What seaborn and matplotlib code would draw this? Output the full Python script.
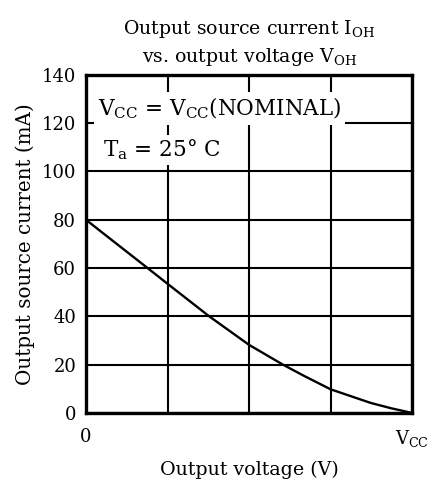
import matplotlib
matplotlib.use("Agg")
import matplotlib.pyplot as plt
import seaborn as sns
import pandas as pd

# Data (x as fraction of VCC)
voltage_frac = [0.0, 0.1, 0.189, 0.25, 0.378, 0.5, 0.604, 0.668, 0.75, 0.872, 0.934, 1.0]
current_ma = [80, 69.4, 60, 53.5, 40, 28.2, 20, 15.4, 9.8, 4.2, 2.0, 0]
y_ticks = [0, 20, 40, 60, 80, 100, 120, 140]
x_grid = [0, 0.25, 0.5, 0.75, 1.0]
x_tick_labels = ["0", "", "", "", r"V$_{\mathrm{CC}}$"]

sns.set_style("white")
plt.rcParams["font.family"] = ["DejaVu Serif"]
plt.rcParams["mathtext.fontset"] = "custom"
plt.rcParams["mathtext.rm"] = "DejaVu Serif"
plt.rcParams["mathtext.it"] = "DejaVu Serif:italic"
plt.rcParams["text.color"] = "black"
plt.rcParams["axes.labelcolor"] = "black"
plt.rcParams["axes.titlecolor"] = "black"

df = pd.DataFrame({"v": voltage_frac, "i": current_ma})

fig = plt.figure(figsize=(4.32, 4.83), dpi=100)
ax = fig.add_axes([0.199, 0.145, 0.755, 0.70])

sns.lineplot(data=df, x="v", y="i", ax=ax, color="black", linewidth=1.7, zorder=3)

ax.set_xlim(0, 1)
ax.set_ylim(0, 140)
ax.set_yticks(y_ticks)
ax.set_xticks(x_grid)
ax.set_xticklabels(x_tick_labels)
ax.tick_params(axis="both", length=0, labelsize=13, colors="black")
ax.tick_params(axis="x", pad=11)
ax.tick_params(axis="y", pad=7)
ax.grid(True, color="black", linewidth=1.5, zorder=1)
for s in ax.spines.values():
    s.set_visible(True)
    s.set_color("black")
    s.set_linewidth(2.4)
    s.set_zorder(4)

ax.set_xlabel("Output voltage (V)", fontsize=13.7, labelpad=8)
ax.set_ylabel("Output source current (mA)", fontsize=14.3, labelpad=5)
ax.set_title("Output source current I$_{\\mathrm{OH}}$\nvs. output voltage V$_{\\mathrm{OH}}$",
             fontsize=13.6, pad=9, linespacing=1.4, color="black")

ax.text(0.037, 126, r"V$_{\mathrm{CC}}$ = V$_{\mathrm{CC}}$(NOMINAL)", fontsize=15.5,
        va="center", ha="left", zorder=5, color="black",
        bbox=dict(facecolor="white", edgecolor="none", pad=3))
ax.text(0.052, 109, r"T$_{\mathrm{a}}$ = 25° C", fontsize=15.5,
        va="center", ha="left", zorder=5, color="black",
        bbox=dict(facecolor="white", edgecolor="none", pad=2))

fig.savefig("out.png", dpi=100)
